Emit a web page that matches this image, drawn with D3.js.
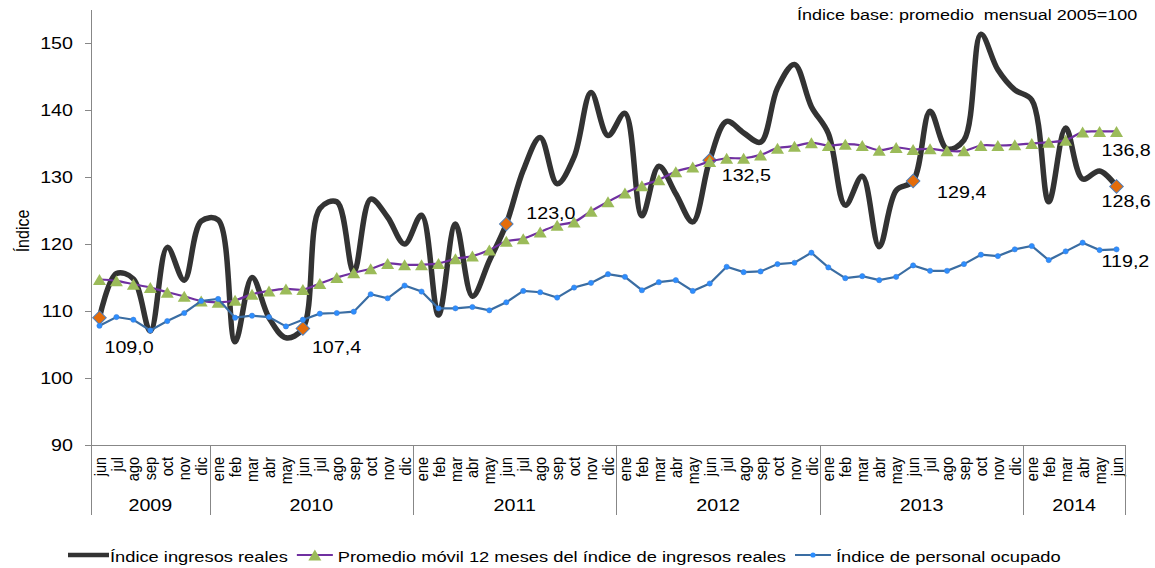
<!DOCTYPE html>
<html lang="es">
<head>
    <meta charset="UTF-8">
    <title>Índice ingresos reales</title>
    <style>
        body {
            margin: 0;
            background-color: #ffffff;
        }
        svg {
            display: block;
            font-family: "Liberation Sans", Arial, sans-serif;
        }
        .axis path, .axis line {
            fill: none;
            stroke: #878787;
            shape-rendering: crispEdges;
        }
        .axis text {
            fill: #000;
        }
    </style>
</head>
<body>
    <svg id="chart" width="1155" height="568"></svg>

    <script src="https://d3js.org/d3.v7.min.js"></script>
    <script>
        // months jun 2009 .. jun 2014
        const categories = [
            "jun-2009","jul-2009","ago-2009","sep-2009","oct-2009","nov-2009","dic-2009",
            "ene-2010","feb-2010","mar-2010","abr-2010","may-2010","jun-2010","jul-2010","ago-2010","sep-2010","oct-2010","nov-2010","dic-2010",
            "ene-2011","feb-2011","mar-2011","abr-2011","may-2011","jun-2011","jul-2011","ago-2011","sep-2011","oct-2011","nov-2011","dic-2011",
            "ene-2012","feb-2012","mar-2012","abr-2012","may-2012","jun-2012","jul-2012","ago-2012","sep-2012","oct-2012","nov-2012","dic-2012",
            "ene-2013","feb-2013","mar-2013","abr-2013","may-2013","jun-2013","jul-2013","ago-2013","sep-2013","oct-2013","nov-2013","dic-2013",
            "ene-2014","feb-2014","mar-2014","abr-2014","may-2014","jun-2014"
        ];
        const yearLabels = ["2009", "2010", "2011", "2012", "2013", "2014"];

        const ingresos = [
            109.0, 115.6, 114.8, 107.0, 119.5, 114.6, 123.4,
            123.6, 105.4, 115.0, 109.0, 106.0, 107.4, 125.3, 126.3, 115.8, 126.7, 124.0, 120.0,
            124.3, 109.4, 123.0, 112.2, 117.5, 123.0, 131.0, 135.9, 129.0, 133.0, 142.6, 136.2,
            139.5, 124.2, 131.6, 127.5, 123.3, 132.5, 138.3, 136.6, 135.2, 143.3, 146.8, 140.5,
            136.5, 125.8, 130.1, 119.6, 128.0, 129.4, 139.8, 134.2, 135.5, 151.3, 146.0, 143.0,
            141.5, 126.3, 137.3, 129.7, 130.9, 128.6
        ];
        const promedio = [
            114.7, 114.5, 114.0, 113.5, 112.8, 112.2, 111.5,
            111.3, 111.6, 112.5, 113.0, 113.3, 113.2, 114.1, 115.0, 115.7, 116.3, 117.1, 116.9,
            116.9, 117.1, 117.8, 118.2, 119.1, 120.4, 120.8, 121.8, 122.8, 123.3, 124.9, 126.3,
            127.6, 128.7, 129.6, 130.8, 131.5, 132.3, 132.8, 132.8, 133.3, 134.3, 134.6, 135.1,
            134.7, 134.9, 134.7, 134.0, 134.4, 134.1, 134.2, 133.9, 133.9, 134.7, 134.7, 134.8,
            135.0, 135.2, 135.5, 136.7, 136.8, 136.8
        ];
        const personal = [
            107.8, 109.1, 108.7, 107.1, 108.5, 109.7, 111.5,
            111.8, 109.0, 109.3, 109.1, 107.7, 108.7, 109.6, 109.7, 109.9, 112.5, 111.9, 113.8,
            112.9, 110.4, 110.4, 110.6, 110.1, 111.3, 113.0, 112.8, 112.0, 113.5, 114.2, 115.5,
            115.1, 113.1, 114.3, 114.6, 113.0, 114.1, 116.6, 115.8, 115.9, 117.0, 117.2, 118.7,
            116.5, 114.9, 115.2, 114.6, 115.1, 116.8, 116.0, 116.0, 117.0, 118.4, 118.2, 119.2,
            119.7, 117.6, 118.9, 120.2, 119.1, 119.2
        ];
        const yTicks = [90, 100, 110, 120, 130, 140, 150];
        const seriesNames = [
            "Índice ingresos reales",
            "Promedio móvil 12 meses del índice de ingresos reales",
            "Índice de personal ocupado"
        ];
        const yTitle = "Índice";
        const note = "Índice base: promedio  mensual 2005=100";
        const juneIdx = [0, 12, 24, 36, 48, 60];   // highlighted points of ingresos

        // data labels: which series / point, offset of the text from the point
        const labelSpecs = [
            { s: "ingresos", i: 0,  dx: 5,   dy: 35 },
            { s: "ingresos", i: 12, dx: 9,   dy: 25 },
            { s: "ingresos", i: 24, dx: 20,  dy: -5 },
            { s: "ingresos", i: 36, dx: 12,  dy: 21 },
            { s: "ingresos", i: 48, dx: 24,  dy: 17 },
            { s: "ingresos", i: 60, dx: -15, dy: 21 },
            { s: "promedio", i: 60, dx: -15, dy: 25 },
            { s: "personal", i: 60, dx: -15, dy: 18 }
        ];
        const seriesByName = { ingresos, promedio, personal };

        // the original picture is stretched horizontally, text included
        const SX = 1.2;
        function stretch(sel) {
            sel.attr("transform", function() {
                const x = +this.getAttribute("x") || 0, y = +this.getAttribute("y") || 0;
                return `translate(${x},${y}) scale(${SX},1) translate(${-x},${-y})`;
            });
        }

        const svg = d3.select("#chart");
        const plot = { left: 91, right: 1125, top: 9.5, bottom: 445 };

        const x = d3.scaleBand().domain(categories).range([plot.left, plot.right]).padding(0);
        const cx = d => x(d) + x.bandwidth() / 2;
        const y = d3.scaleLinear().domain([90, 155]).range([plot.bottom, plot.top]);

        const fmt = d3.formatLocale({ decimal: ",", thousands: ".", grouping: [3], currency: ["", ""] }).format(".1f");

        // Y axis
        const yAxis = svg.append("g")
            .attr("class", "axis")
            .attr("transform", `translate(${plot.left},0)`)
            .call(d3.axisLeft(y).tickValues(yTicks).tickSize(6).tickSizeOuter(0));
        yAxis.selectAll("text")
            .attr("x", -18)
            .style("font-size", "16.4px")
            .call(stretch);

        svg.append("text")
            .attr("transform", `translate(28.5,231) scale(${SX},1) rotate(-90)`)
            .attr("text-anchor", "middle")
            .style("font-size", "16px")
            .text(yTitle);

        // X axis with month labels
        const xAxis = svg.append("g")
            .attr("class", "axis")
            .attr("transform", `translate(0,${plot.bottom})`)
            .call(d3.axisBottom(x).tickSize(0).tickSizeOuter(0).tickFormat(d => d.split("-")[0]));
        xAxis.selectAll("text")
            .attr("x", 0)
            .attr("y", 0)
            .attr("dy", "0.35em")
            .attr("text-anchor", "end")
            .attr("transform", `translate(0,12) scale(${SX},1) rotate(-90)`)
            .style("font-size", "14.5px");

        // year groups
        const yearOf = d => d.split("-")[1];
        const bounds = [plot.left];
        categories.forEach((d, i) => { if (i > 0 && yearOf(d) !== yearOf(categories[i - 1])) bounds.push(x(d)); });
        bounds.push(plot.right);
        svg.append("g").attr("class", "axis")
            .selectAll("line")
            .data(bounds)
            .enter().append("line")
            .attr("x1", d => Math.round(d) + 0.5)
            .attr("x2", d => Math.round(d) + 0.5)
            .attr("y1", plot.bottom)
            .attr("y2", 515);
        svg.append("g")
            .selectAll("text")
            .data(yearLabels)
            .enter().append("text")
            .attr("x", (d, i) => (bounds[i] + bounds[i + 1]) / 2)
            .attr("y", 511)
            .attr("text-anchor", "middle")
            .style("font-size", "16.4px")
            .text(d => d)
            .call(stretch);

        // series
        const smooth = d3.line().x((d, i) => cx(categories[i])).y(d => y(d)).curve(d3.curveCatmullRom.alpha(0.5));
        const straight = d3.line().x((d, i) => cx(categories[i])).y(d => y(d));

        svg.append("path")
            .attr("d", smooth(ingresos))
            .attr("fill", "none")
            .attr("stroke", "#333333")
            .attr("stroke-width", 5.5)
            .attr("stroke-linejoin", "round");

        svg.append("g")
            .selectAll("rect")
            .data(juneIdx)
            .enter().append("rect")
            .attr("x", -4.8).attr("y", -4.8).attr("width", 9.6).attr("height", 9.6)
            .attr("transform", i => `translate(${cx(categories[i])},${y(ingresos[i])}) rotate(45)`)
            .attr("fill", "#E46C0A")
            .attr("stroke", "#4F81BD")
            .attr("stroke-width", 1);

        svg.append("path")
            .attr("d", smooth(promedio))
            .attr("fill", "none")
            .attr("stroke", "#7030A0")
            .attr("stroke-width", 2.2);

        const triangle = "M0,-5.5L6.5,5.5L-6.5,5.5Z";
        svg.append("g")
            .selectAll("path")
            .data(promedio)
            .enter().append("path")
            .attr("d", triangle)
            .attr("transform", (d, i) => `translate(${cx(categories[i])},${y(d)})`)
            .attr("fill", "#9BBB59");

        svg.append("path")
            .attr("d", straight(personal))
            .attr("fill", "none")
            .attr("stroke", "#3A6DA3")
            .attr("stroke-width", 2.2);

        svg.append("g")
            .selectAll("circle")
            .data(personal)
            .enter().append("circle")
            .attr("cx", (d, i) => cx(categories[i]))
            .attr("cy", d => y(d))
            .attr("r", 2.6)
            .attr("fill", "#2C8EFF")
            .attr("stroke", "#3F7FD6")
            .attr("stroke-width", 0.6);

        // data labels
        svg.append("g")
            .selectAll("text")
            .data(labelSpecs)
            .enter().append("text")
            .attr("x", d => cx(categories[d.i]) + d.dx)
            .attr("y", d => y(seriesByName[d.s][d.i]) + d.dy)
            .style("font-size", "16.4px")
            .text(d => fmt(seriesByName[d.s][d.i]))
            .call(stretch);

        // note
        svg.append("text")
            .attr("x", 797)
            .attr("y", 20)
            .style("font-size", "15px")
            .style("white-space", "pre")
            .text(note)
            .call(stretch);

        // legend
        const legend = svg.append("g");
        const ly = 555;
        let lx = 68;
        seriesNames.forEach((name, k) => {
            const len = k === 0 ? 41 : 36;
            const g = legend.append("g");
            if (k === 0) {
                g.append("line").attr("x1", lx).attr("x2", lx + len).attr("y1", ly).attr("y2", ly)
                    .attr("stroke", "#333333").attr("stroke-width", 4.5);
            } else if (k === 1) {
                g.append("line").attr("x1", lx).attr("x2", lx + len).attr("y1", ly).attr("y2", ly)
                    .attr("stroke", "#7030A0").attr("stroke-width", 2.2);
                g.append("path").attr("d", triangle)
                    .attr("transform", `translate(${lx + len / 2},${ly})`)
                    .attr("fill", "#9BBB59");
            } else {
                g.append("line").attr("x1", lx).attr("x2", lx + len).attr("y1", ly).attr("y2", ly)
                    .attr("stroke", "#3A6DA3").attr("stroke-width", 2.2);
                g.append("circle").attr("cx", lx + len / 2).attr("cy", ly).attr("r", 2.6)
                    .attr("fill", "#2C8EFF");
            }
            const t = g.append("text")
                .attr("x", lx + len + (k === 0 ? 1 : 5))
                .attr("y", ly + 7.5)
                .style("font-size", "15.25px")
                .text(name)
                .call(stretch);
            lx = lx + len + (k === 0 ? 1 : 5) + t.node().getComputedTextLength() * SX + 9;
        });
    </script>
</body>
</html>
